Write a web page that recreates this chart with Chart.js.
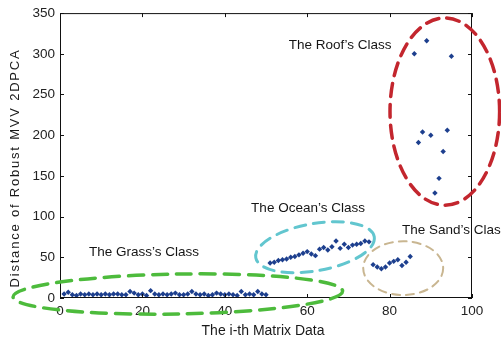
<!DOCTYPE html>
<html>
<head>
<meta charset="utf-8">
<script src="https://cdn.jsdelivr.net/npm/chart.js@4/dist/chart.umd.min.js"></script>
<style>
  html, body { margin: 0; padding: 0; background: #fff; }
  #wrap { width: 501px; height: 345px; }
</style>
</head>
<body>
<div id="wrap"><canvas id="c" width="501" height="345"></canvas></div>
<script>
// Distance values per matrix index, grouped by class
const grassX = [1,2,3,4,5,6,7,8,9,10,11,12,13,14,15,16,17,18,19,20,21,22,23,24,25,26,27,28,29,30,31,32,33,34,35,36,37,38,39,40,41,42,43,44,45,46,47,48,49,50];
const grassY = [5,7,4,3,5,4,5,4,5,4,5,4,5,5,4,4,8,6,4,5,3,9,5,4,5,4,5,6,4,4,5,8,5,4,5,3,4,6,5,4,5,4,3,8,4,5,4,8,5,4];
const oceanX = [51,52,53,54,55,56,57,58,59,60,61,62,63,64,65,66,67,68,69,70,71,72,73,74,75];
const oceanY = [43,44,46,47,48,50,51,53,55,57,54,52,60,62,59,63,70,61,66,62,65,66,67,70,69];
const sandX = [76,77,78,79,80,81,82,83,84,85];
const sandY = [41,38,36,38,43,45,47,40,44,51];
const roofX = [86,87,88,89,90,91,92,93,94,95];
const roofY = [300,191,204,316,200,129,147,180,206,297];

const xTicks = [0,20,40,60,80,100];
const yTicks = [0,50,100,150,200,250,300,350];
const xTitle = 'The i-th Matrix Data';
const yTitle = 'Distance of Robust MVV 2DPCA';

// Class outlines (data units; rotation in degrees on screen)
const classRings = [
  { cx: 28.6, cy: 4.9,  rx: 40,   ry: 24.5, rot: -1,  color: '#4dbb3c', width: 3.5, dash: [15, 9] },
  { cx: 61.9, cy: 62.4, rx: 14.6, ry: 29,   rot: -10, color: '#62c6cf', width: 3,   dash: [11, 8] },
  { cx: 83.3, cy: 36.7, rx: 9.7,  ry: 33,   rot: 0,   color: '#c9b691', width: 2,   dash: [8, 6] },
  { cx: 93.4, cy: 229,  rx: 13.3, ry: 115,  rot: 0,   color: '#c3262e', width: 3.5, dash: [13, 8] }
];
const classNames = [
  { text: "The Grass\u2019s Class", x: 20.4, y: 56,  align: 'center' },
  { text: "The Ocean\u2019s Class", x: 60.2, y: 110, align: 'center' },
  { text: "The Sand\u2019s Class",  x: 83,   y: 83,  align: 'left' },
  { text: "The Roof\u2019s Class",  x: 68,   y: 311, align: 'center' }
];

function pts(xs, ys) { return xs.map((x, i) => ({ x: x, y: ys[i] })); }
const allPoints = [].concat(pts(grassX, grassY), pts(oceanX, oceanY), pts(sandX, sandY), pts(roofX, roofY));

const FONT = "'Liberation Sans', Arial, sans-serif";

// Box frame with inward ticks, class outlines, class names and axis titles
const framePlugin = {
  id: 'frame',
  afterDatasetsDraw(chart) {
    const { ctx, chartArea: a, scales } = chart;
    ctx.save();
    ctx.strokeStyle = '#111';
    ctx.lineWidth = 1;
    ctx.strokeRect(a.left + 0.5, a.top + 0.5, a.right - a.left - 1, a.bottom - a.top - 1);
    const tl = 4;
    ctx.beginPath();
    xTicks.forEach(v => {
      const px = Math.round(scales.x.getPixelForValue(v)) + 0.5;
      ctx.moveTo(px, a.bottom); ctx.lineTo(px, a.bottom - tl);
      ctx.moveTo(px, a.top); ctx.lineTo(px, a.top + tl);
    });
    yTicks.forEach(v => {
      const py = Math.round(scales.y.getPixelForValue(v)) + 0.5;
      ctx.moveTo(a.left, py); ctx.lineTo(a.left + tl, py);
      ctx.moveTo(a.right, py); ctx.lineTo(a.right - tl, py);
    });
    ctx.stroke();
    ctx.restore();
  },
  afterDraw(chart) {
    const { ctx, chartArea: a, scales } = chart;
    ctx.save();
    classRings.forEach(r => {
      const cx = scales.x.getPixelForValue(r.cx);
      const cy = scales.y.getPixelForValue(r.cy);
      const rx = Math.abs(scales.x.getPixelForValue(r.cx + r.rx) - cx);
      const ry = Math.abs(scales.y.getPixelForValue(r.cy + r.ry) - cy);
      ctx.beginPath();
      ctx.setLineDash(r.dash);
      ctx.lineWidth = r.width;
      ctx.strokeStyle = r.color;
      ctx.lineCap = 'round';
      ctx.ellipse(cx, cy, rx, ry, r.rot * Math.PI / 180, 0, Math.PI * 2);
      ctx.stroke();
    });
    ctx.setLineDash([]);
    ctx.fillStyle = '#151515';
    ctx.font = '13.5px ' + FONT;
    ctx.textBaseline = 'middle';
    classNames.forEach(n => {
      ctx.textAlign = n.align;
      ctx.fillText(n.text, scales.x.getPixelForValue(n.x), scales.y.getPixelForValue(n.y));
    });

    // axis titles
    ctx.fillStyle = '#1a1a1a';
    ctx.textAlign = 'center';
    ctx.font = '14px ' + FONT;
    ctx.fillText(xTitle, (a.left + a.right) / 2 - 3, 331);
    ctx.save();
    ctx.translate(15, 168);
    ctx.rotate(-Math.PI / 2);
    ctx.font = '13px ' + FONT;
    if ('letterSpacing' in ctx) ctx.letterSpacing = '1.8px';
    ctx.fillText(yTitle, 0, 0);
    ctx.restore();
    ctx.restore();
  }
};

new Chart(document.getElementById('c'), {
  type: 'scatter',
  data: {
    datasets: [{
      data: allPoints,
      pointStyle: 'rectRot',
      pointRadius: 2.7,
      pointBackgroundColor: '#1d3f8e',
      pointBorderColor: '#1d3f8e',
      pointBorderWidth: 0
    }]
  },
  options: {
    responsive: false,
    animation: false,
    layout: { padding: { top: 12, right: 29, left: 0, bottom: 0 } },
    plugins: { legend: { display: false }, tooltip: { enabled: false } },
    scales: {
      x: {
        type: 'linear', min: 0, max: 100,
        afterBuildTicks(s) { s.ticks = xTicks.map(v => ({ value: v })); },
        afterFit(s) { s.height = 47; },
        grid: { display: false, drawTicks: false },
        border: { display: false },
        ticks: { color: '#222', font: { family: FONT, size: 13.5 }, padding: 5, maxRotation: 0 }
      },
      y: {
        type: 'linear', min: 0, max: 350,
        afterBuildTicks(s) { s.ticks = yTicks.map(v => ({ value: v })); },
        afterFit(s) { s.width = 60; },
        grid: { display: false, drawTicks: false },
        border: { display: false },
        ticks: { color: '#222', font: { family: FONT, size: 13.5 }, padding: 5 }
      }
    }
  },
  plugins: [framePlugin]
});
</script>
</body>
</html>
